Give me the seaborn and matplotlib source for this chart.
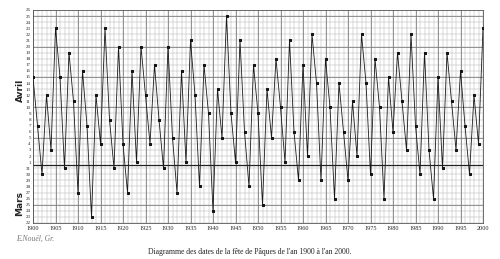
import matplotlib
matplotlib.use("Agg")
import matplotlib.pyplot as plt
import seaborn as sns
import pandas as pd

# Easter dates 1900-2000
years = list(range(1900, 2001))
months = [4, 4, 3, 4, 4, 4, 4, 3, 4, 4,
          3, 4, 4, 3, 4, 4, 4, 4, 3, 4,
          4, 3, 4, 4, 4, 4, 4, 4, 4, 3,
          4, 4, 3, 4, 4, 4, 4, 3, 4, 4,
          3, 4, 4, 4, 4, 4, 4, 4, 3, 4,
          4, 3, 4, 4, 4, 4, 4, 4, 4, 3,
          4, 4, 4, 4, 3, 4, 4, 3, 4, 4,
          3, 4, 4, 4, 4, 3, 4, 4, 3, 4,
          4, 4, 4, 4, 4, 4, 3, 4, 4, 3,
          4, 3, 4, 4, 4, 4, 4, 3, 4, 4,
          4]
days = [15, 7, 30, 12, 3, 23, 15, 31, 19, 11,
        27, 16, 7, 23, 12, 4, 23, 8, 31, 20,
        4, 27, 16, 1, 20, 12, 4, 17, 8, 31,
        20, 5, 27, 16, 1, 21, 12, 28, 17, 9,
        24, 13, 5, 25, 9, 1, 21, 6, 28, 17,
        9, 25, 13, 5, 18, 10, 1, 21, 6, 29,
        17, 2, 22, 14, 29, 18, 10, 26, 14, 6,
        29, 11, 2, 22, 14, 30, 18, 10, 26, 15,
        6, 19, 11, 3, 22, 7, 30, 19, 3, 26,
        15, 31, 19, 11, 3, 16, 7, 30, 12, 4,
        23]

# y axis tick labels: March 22 .. March 31, April 1 .. April 26
y_labels = [str(d) for d in range(22, 32)] + [str(d) for d in range(1, 27)]

def to_index(m, d):
    return d - 22 if m == 3 else d + 9

df = pd.DataFrame({"year": years,
                   "pos": [to_index(m, d) for m, d in zip(months, days)]})

serif = ["Liberation Serif", "DejaVu Serif"]
sns.set_theme(style="white")
plt.rcParams["font.family"] = serif

fig = plt.figure(figsize=(5, 2.59), dpi=100)
ax = fig.add_axes([33 / 500, 36 / 259, 450 / 500, 213 / 259])

# grid
ax.set_xlim(1900, 2000)
ax.set_ylim(0, 35)
ax.set_xticks(range(1900, 2001, 5))
ax.set_xticks(range(1900, 2001), minor=True)
ax.set_yticks(range(0, 36))
ax.set_yticklabels(y_labels)
ax.grid(True, which="both", axis="x", color="#b4b4b4", linewidth=0.35)
ax.grid(True, which="major", axis="y", color="#b4b4b4", linewidth=0.35)
for yr in range(1900, 2001, 5):
    ax.axvline(yr, color="#7a7a7a", linewidth=0.55, zorder=1)
for p in [3, 14, 19, 24, 29, 34]:
    ax.axhline(p, color="#7a7a7a", linewidth=0.55, zorder=1)
ax.axhline(9.6, color="#222222", linewidth=0.9, zorder=1)

sns.lineplot(data=df, x="year", y="pos", ax=ax, color="#1a1a1a",
             linewidth=0.6, marker="s", markersize=1.8,
             markeredgecolor="#111111", zorder=3)

ax.set_xlabel("")
ax.set_ylabel("")
ax.tick_params(axis="both", which="both", length=0, pad=1.5)
ax.tick_params(axis="y", labelsize=3.6, pad=1.5)
ax.tick_params(axis="x", labelsize=4.5, pad=2)
for s in ax.spines.values():
    s.set_color("#555555")
    s.set_linewidth(0.6)

fig.text(20 / 500, 1 - 90 / 259, "Avril", rotation=90, ha="center", va="center",
         fontsize=6.5, fontweight="bold", family=["DejaVu Sans"])
fig.text(20 / 500, 1 - 203 / 259, "Mars", rotation=90, ha="center", va="center",
         fontsize=6.5, fontweight="bold", family=["DejaVu Sans"])
fig.text(16 / 500, 1 - 239 / 259, "E.Nouël, Gr.", ha="left", va="center",
         fontsize=5.5, style="italic", color="#777777")
fig.text(250 / 500, 1 - 252 / 259,
         "Diagramme des dates de la fête de Pâques de l'an 1900 à l'an 2000.",
         ha="center", va="center", fontsize=5.5, color="#222222")

fig.savefig("out.png", dpi=100, facecolor="white")
